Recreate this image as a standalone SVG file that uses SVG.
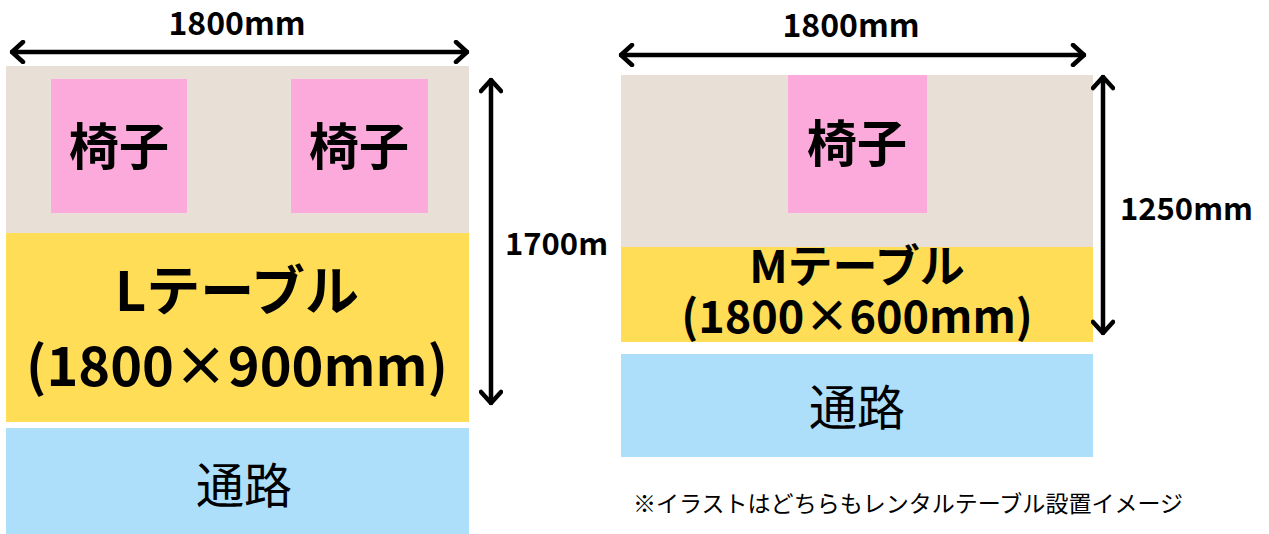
<svg xmlns="http://www.w3.org/2000/svg" width="1269" height="534" viewBox="0 0 1269 534">
<style>
.bg{fill:#ffffff}
.beige{fill:#E8E0D6}
.pink{fill:#FCAADC}
.yellow{fill:#FFDD57}
.blue{fill:#ADDFFB}
.t{font-family:"Noto Sans CJK JP","Noto Sans",sans-serif;fill:#000}
.b{font-weight:700}
.dim{stroke:#000;stroke-width:4.5;fill:none;stroke-linecap:round;stroke-linejoin:round}
</style>
<defs>
<marker id="ah" markerUnits="userSpaceOnUse" viewBox="-14 -12 16 24" markerWidth="16" markerHeight="24" refX="0" refY="0" orient="auto-start-reverse">
<path d="M-11,-10 L0,0 L-11,10" fill="none" stroke="#000" stroke-width="4.5" stroke-linecap="round" stroke-linejoin="round"/>
</marker>
<clipPath id="clipL"><rect x="0" y="0" width="608" height="534"/></clipPath>
</defs>
<rect class="bg" x="0" y="0" width="1269" height="534"/>

<g id="left-seat-area">
<rect class="beige" x="6" y="66" width="463" height="167"/>
</g>
<g id="left-chair-1">
<rect class="pink" x="51" y="79" width="136" height="134"/>
<text class="t b" x="119" y="165" font-size="50" text-anchor="middle">椅子</text>
</g>
<g id="left-chair-2">
<rect class="pink" x="291" y="79" width="137" height="134"/>
<text class="t b" x="359" y="165" font-size="50" text-anchor="middle">椅子</text>
</g>
<g id="left-table">
<rect class="yellow" x="6" y="233" width="463" height="189"/>
<text class="t b" x="237" y="311" font-size="54" text-anchor="middle">Lテーブル</text>
<text class="t b" x="237" y="386" font-size="54" text-anchor="middle">(1800×900mm)</text>
</g>
<g id="left-aisle">
<rect class="blue" x="6" y="428" width="463" height="106"/>
<text class="t" x="244" y="503" font-size="48" text-anchor="middle">通路</text>
</g>

<g id="right-seat-area">
<rect class="beige" x="621" y="75" width="472" height="172"/>
</g>
<g id="right-chair">
<rect class="pink" x="788" y="75" width="139" height="138"/>
<text class="t b" x="857" y="162" font-size="50" text-anchor="middle">椅子</text>
</g>
<g id="right-table">
<rect class="yellow" x="621" y="247" width="472" height="95"/>
<text class="t b" x="857" y="283" font-size="45" text-anchor="middle">Mテーブル</text>
<text class="t b" x="857" y="333" font-size="45" text-anchor="middle">(1800×600mm)</text>
</g>
<g id="right-aisle">
<rect class="blue" x="621" y="354" width="472" height="103"/>
<text class="t" x="857" y="425" font-size="48" text-anchor="middle">通路</text>
</g>

<g id="connectors">
<line class="dim" x1="12" y1="52" x2="467" y2="52" marker-start="url(#ah)" marker-end="url(#ah)"/>
<line class="dim" x1="491" y1="80" x2="491" y2="403" marker-start="url(#ah)" marker-end="url(#ah)"/>
<line class="dim" x1="621" y1="55" x2="1084" y2="55" marker-start="url(#ah)" marker-end="url(#ah)"/>
<line class="dim" x1="1103" y1="77" x2="1103" y2="333" marker-start="url(#ah)" marker-end="url(#ah)"/>
</g>

<g id="labels">
<text class="t b" x="237" y="35" font-size="32" text-anchor="middle">1800mm</text>
<text class="t b" x="851" y="37" font-size="32" text-anchor="middle">1800mm</text>
<g clip-path="url(#clipL)">
<text class="t b" x="505" y="255" font-size="31">1700mm</text>
</g>
<text class="t b" x="1120" y="220" font-size="31">1250mm</text>
<text class="t" x="633" y="512" font-size="23" textLength="550" lengthAdjust="spacingAndGlyphs">※イラストはどちらもレンタルテーブル設置イメージ</text>
</g>
</svg>
